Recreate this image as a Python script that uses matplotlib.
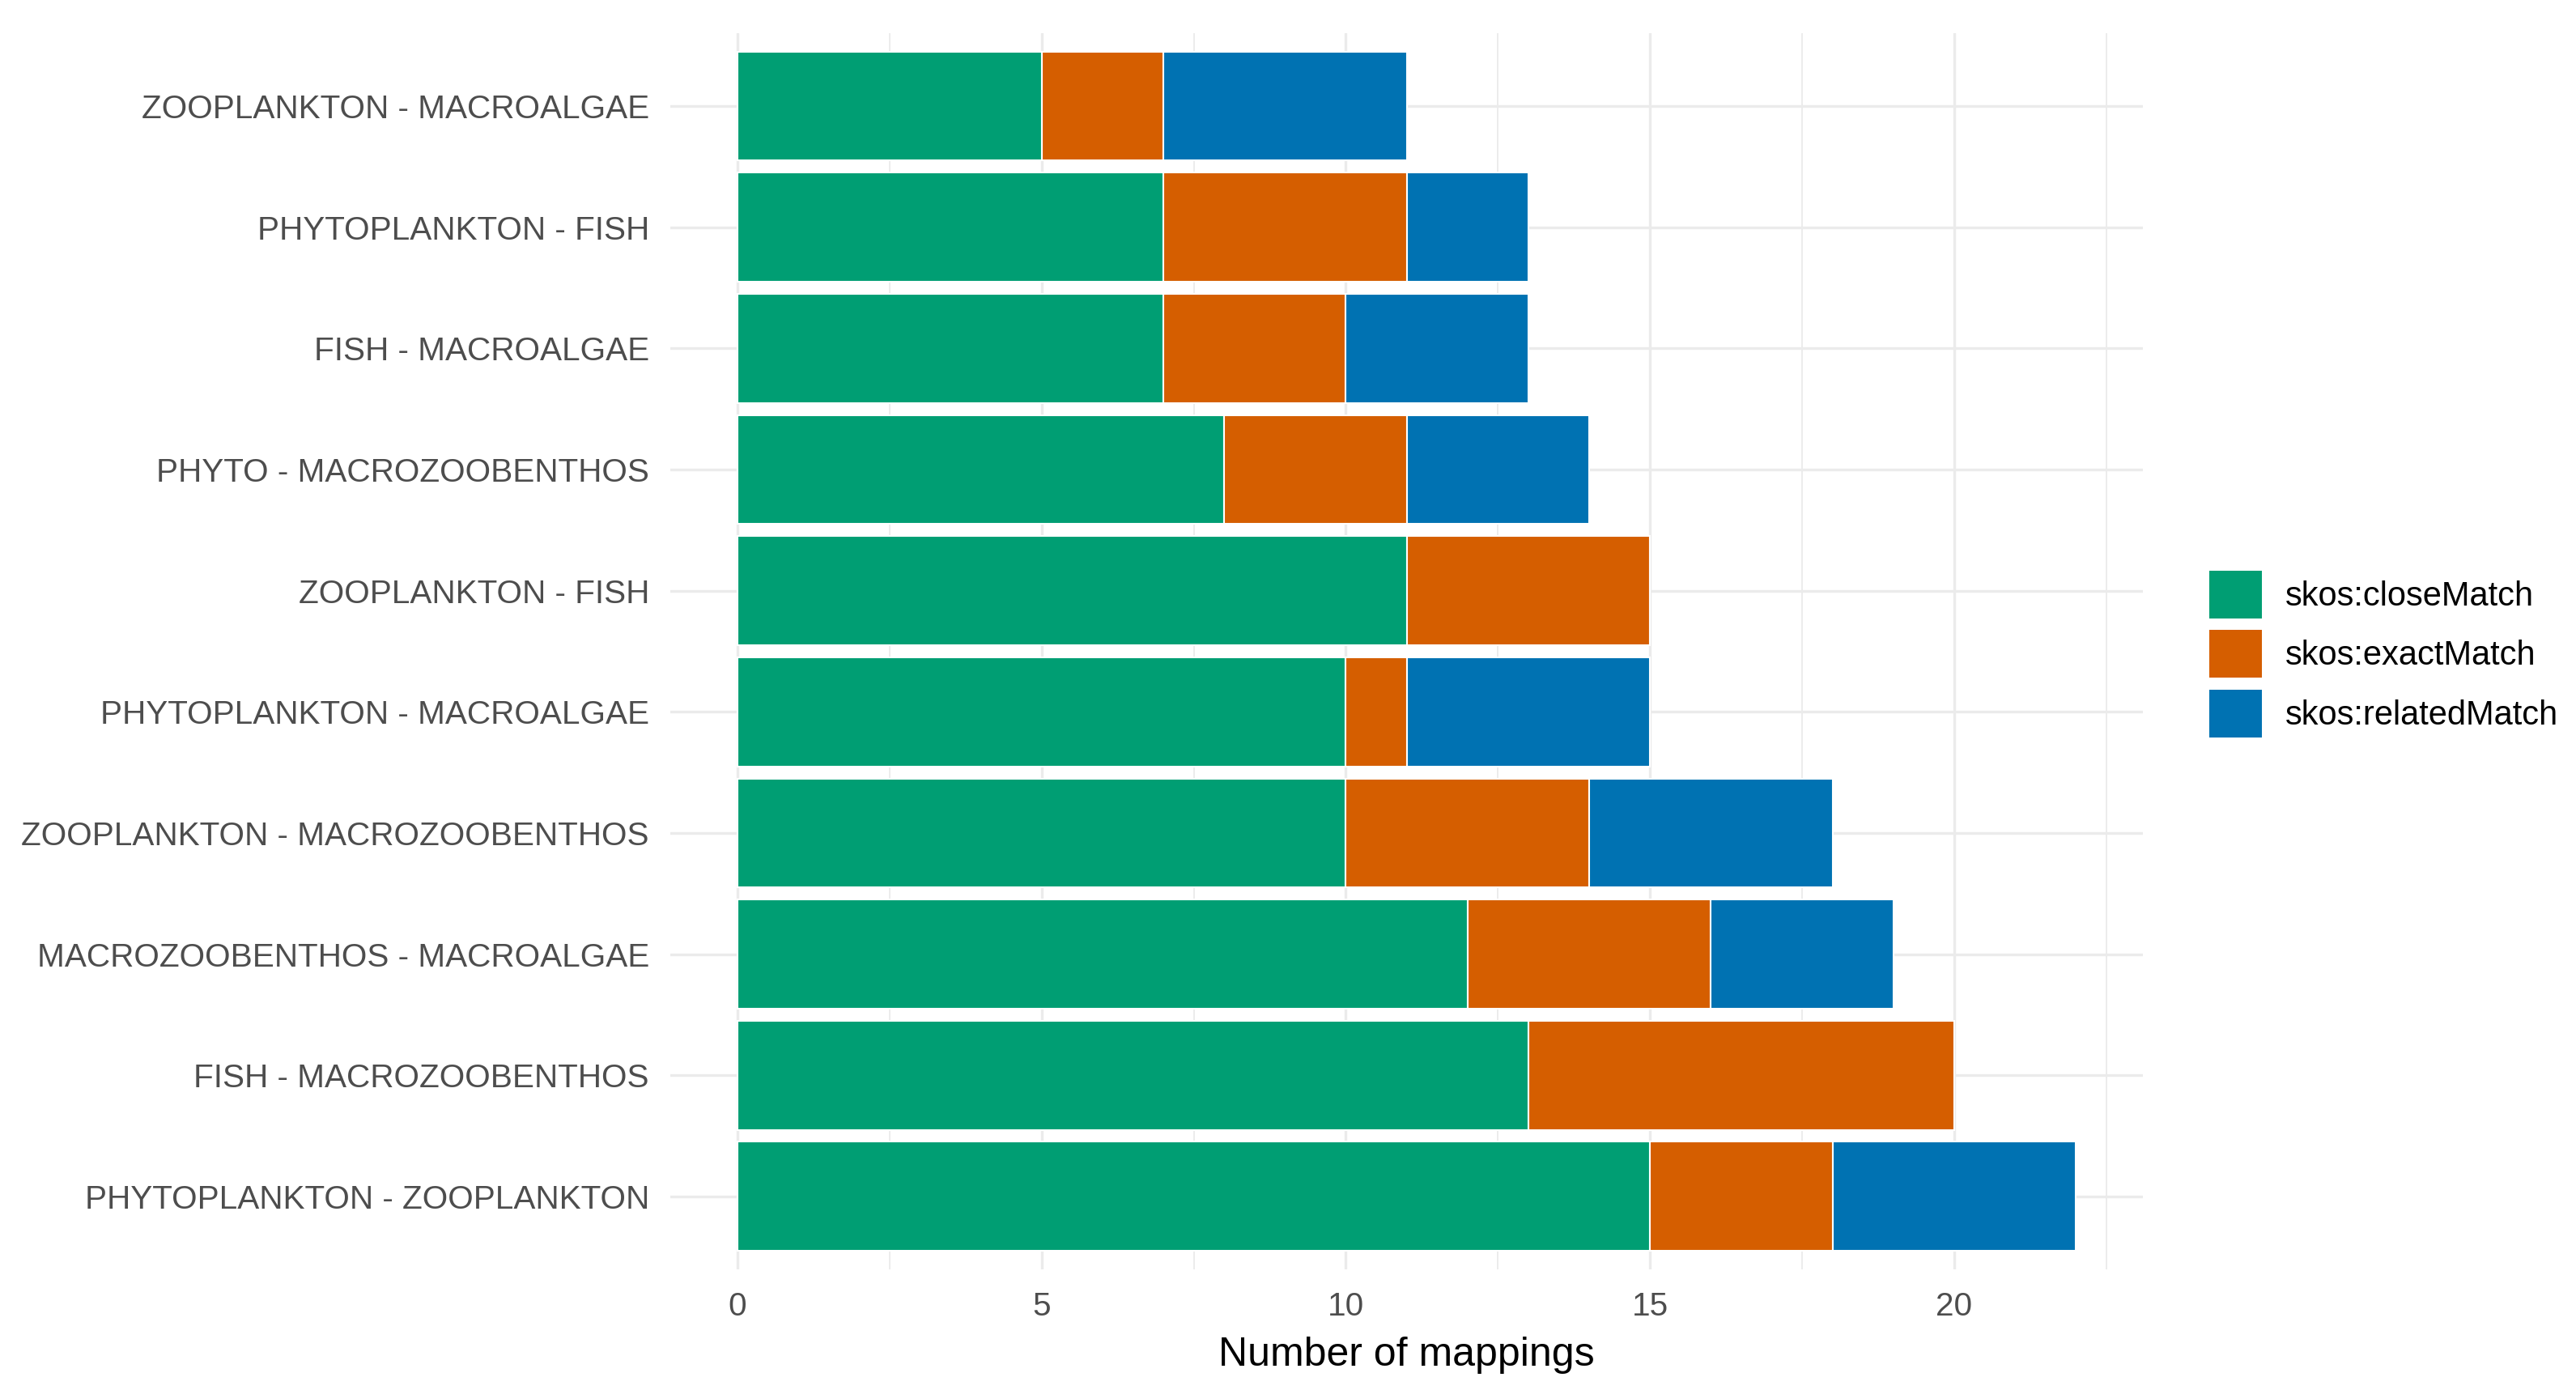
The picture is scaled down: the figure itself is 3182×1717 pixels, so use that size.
import numpy as np
import matplotlib.pyplot as plt
from matplotlib.patches import Patch
from matplotlib.ticker import MultipleLocator

plt.rcParams['font.family'] = ['Liberation Sans', 'DejaVu Sans']

# ── 資料（由上到下）──────────────────────────────────────
pairs = [
    'ZOOPLANKTON - MACROALGAE',
    'PHYTOPLANKTON - FISH',
    'FISH - MACROALGAE',
    'PHYTO - MACROZOOBENTHOS',
    'ZOOPLANKTON - FISH',
    'PHYTOPLANKTON - MACROALGAE',
    'ZOOPLANKTON - MACROZOOBENTHOS',
    'MACROZOOBENTHOS - MACROALGAE',
    'FISH - MACROZOOBENTHOS',
    'PHYTOPLANKTON - ZOOPLANKTON',
]
close_match   = [5, 7, 7, 8, 11, 10, 10, 12, 13, 15]
exact_match   = [2, 4, 3, 3, 4, 1, 4, 4, 7, 3]
related_match = [4, 2, 3, 3, 0, 4, 4, 3, 0, 4]

series_names  = ['skos:closeMatch', 'skos:exactMatch', 'skos:relatedMatch']
series_colors = ['#009E73', '#D55E00', '#0072B2']

# ── 畫圖 ─────────────────────────────────────────────────
fig = plt.figure(figsize=(31.82, 17.17), dpi=100)
ax = fig.add_axes([0.2603, 0.087, 0.5715, 0.889])

y = np.arange(len(pairs))
left = np.zeros(len(pairs))
for vals, name, col in zip([close_match, exact_match, related_match],
                           series_names, series_colors):
    vals = np.array(vals, dtype=float)
    ax.barh(y, vals, left=left, height=0.9, color=col,
            edgecolor='white', linewidth=1.5, label=name, zorder=3)
    left += vals

total_max = left.max()
ax.set_xlim(-0.05 * total_max, total_max * 1.05)
ax.set_ylim(len(pairs) - 0.4, -0.6)

ax.set_yticks(y)
ax.set_yticklabels(pairs)
ax.xaxis.set_major_locator(MultipleLocator(5))
ax.xaxis.set_minor_locator(MultipleLocator(2.5))

# 格線（類似 ggplot theme_minimal）
ax.grid(which='major', axis='both', color='#EBEBEB', linewidth=2.4, zorder=0)
ax.grid(which='minor', axis='x', color='#EBEBEB', linewidth=1.3, zorder=0)
ax.set_axisbelow(True)
for sp in ax.spines.values():
    sp.set_visible(False)
ax.tick_params(axis='both', which='both', length=0, labelsize=29.2,
               labelcolor='#4D4D4D')
ax.tick_params(axis='y', pad=19)
ax.tick_params(axis='x', pad=20)

ax.set_xlabel('Number of mappings', fontsize=36, color='black', labelpad=13)

handles = [Patch(facecolor=c, edgecolor='none') for c in series_colors]
fig.legend(handles, series_names, loc='center left',
           bbox_to_anchor=(0.8577, 0.5295), frameon=False, fontsize=30,
           handlelength=1.55, handleheight=1.8, handletextpad=0.7,
           labelspacing=0.35, borderpad=0, borderaxespad=0)

plt.savefig('out.png', dpi=100)
